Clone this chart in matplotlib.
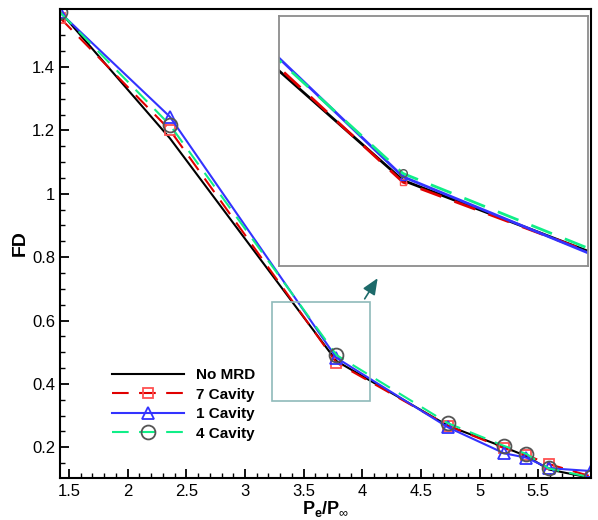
import numpy as np
import matplotlib.pyplot as plt
from matplotlib.ticker import MultipleLocator, FuncFormatter
from matplotlib.patches import Rectangle

plt.rcParams['font.family'] = ['Liberation Sans', 'DejaVu Sans']
plt.rcParams['mathtext.fontset'] = 'custom'
plt.rcParams['mathtext.rm'] = 'Liberation Sans'
plt.rcParams['mathtext.bf'] = 'Liberation Sans:bold'

# pressure ratio Pe/Pinf and FD for each case
x_pe = [1.423, 2.36, 3.78, 4.73, 5.21, 5.40, 5.59, 5.95]
fd_no_mrd = [1.575, 1.175, 0.472, 0.268, 0.200, 0.172, 0.130, 0.103]
fd_7cav = [1.555, 1.201, 0.467, 0.268, 0.197, 0.175, 0.147, 0.108]
fd_1cav = [1.572, 1.243, 0.482, 0.263, 0.181, 0.167, 0.134, 0.125]
fd_4cav = [1.573, 1.217, 0.491, 0.276, 0.204, 0.179, 0.133, 0.105]

# zoomed region box and inset limits
zoom_x = (3.228, 4.068)
zoom_y = (0.345, 0.657)
inset_x = (3.17, 4.69)
inset_y = (0.236, 0.925)

series = [
    (fd_no_mrd, 'No MRD', dict(color='k', ls='-')),
    (fd_7cav, '7 Cavity', dict(color='#e00000', ls=(0, (8, 5)), marker='s', mec='#ff5050', ms=7.5)),
    (fd_1cav, '1 Cavity', dict(color='#3333ff', ls='-', marker='^', mec='#3333ff', ms=8.5)),
    (fd_4cav, '4 Cavity', dict(color='#10ee88', ls=(0, (8, 5)), marker='o', mec='#555555', ms=10)),
]

fig = plt.figure(figsize=(5.98, 5.2), dpi=100)
ax = fig.add_axes([60/598, 42/520, 531/598, 469/520])

for y, lab, st in series:
    ax.plot(x_pe, y, lw=1.5, mfc='none', mew=1.3, label=lab, **st)

ax.set_xlim(1.423, 5.95)
ax.set_ylim(0.103, 1.583)
ax.xaxis.set_major_locator(MultipleLocator(0.5))
ax.xaxis.set_minor_locator(MultipleLocator(0.1))
ax.yaxis.set_major_locator(MultipleLocator(0.2))
ax.yaxis.set_minor_locator(MultipleLocator(0.05))
fmt = FuncFormatter(lambda v, p: '%g' % round(v, 3))
ax.xaxis.set_major_formatter(fmt)
ax.yaxis.set_major_formatter(fmt)
ax.tick_params(which='both', direction='in', top=False, right=False, labelsize=12)
ax.tick_params(which='major', length=6.5, width=1.3)
ax.tick_params(which='minor', length=3.5, width=1.0)
ax.tick_params(axis='x', pad=4.5)
ax.tick_params(axis='y', pad=3.5)
for s in ax.spines.values():
    s.set_linewidth(1.5)

ax.set_ylabel('FD', fontsize=14, fontweight='bold', labelpad=2)
ax.set_xlabel(r'$\mathbf{P}_{\mathbf{e}}\mathbf{/P}_{\infty}$', fontsize=13, labelpad=0)

ax.legend(loc='upper left', bbox_to_anchor=(0.098, 0.234), frameon=False,
          prop={'weight': 'bold', 'size': 11}, handlelength=4.7, handletextpad=0.8,
          labelspacing=0.36, borderpad=0, borderaxespad=0, numpoints=1)

ax.add_patch(Rectangle((zoom_x[0], zoom_y[0]), zoom_x[1]-zoom_x[0], zoom_y[1]-zoom_y[0],
                       fill=False, ec='#8fbaba', lw=1.2, zorder=5))
ax.annotate('', xy=(0.601, 0.431), xytext=(0.571, 0.377), xycoords='axes fraction',
            arrowprops=dict(arrowstyle='-|>,head_length=0.7,head_width=0.3',
                            color='#1d6a6a', lw=1.2, mutation_scale=14))

# inset
axin = fig.add_axes([279/598, 1-266/520, 309/598, 250/520])
for y, lab, st in series:
    st2 = dict(st)
    if 'ms' in st2:
        st2['ms'] = st2['ms'] * 0.55
    axin.plot(x_pe, y, lw=2.0, mfc='none', mew=1.0, **st2)
axin.set_xlim(*inset_x)
axin.set_ylim(*inset_y)
axin.set_xticks([])
axin.set_yticks([])
for s in axin.spines.values():
    s.set_color('#8c8c8c')
    s.set_linewidth(1.3)

fig.savefig('out.png', dpi=100)
